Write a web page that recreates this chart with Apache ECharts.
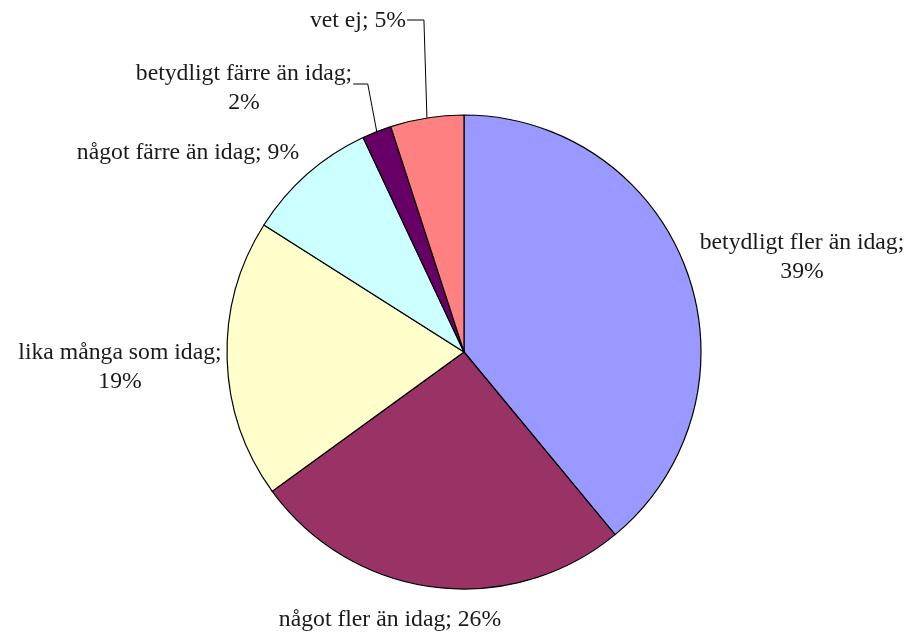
<!DOCTYPE html>
<html><head><meta charset="utf-8">
<script src="https://cdn.jsdelivr.net/npm/echarts@6/dist/echarts.min.js"></script>
<style>html,body{margin:0;padding:0;background:#fff}#c{width:908px;height:632px}</style>
</head><body><div id="c"></div>
<script>
const categories = ['betydligt fler än idag','något fler än idag','lika många som idag','något färre än idag','betydligt färre än idag','vet ej'];
const values = [39, 26, 19, 9, 2, 5];
const labelTexts = ['betydligt fler än idag;\n39%','något fler än idag; 26%','lika många som idag;\n19%','något färre än idag; 9%','betydligt färre än idag;\n2%','vet ej; 5%'];
const colors = ['#9999FF','#993366','#FFFFCC','#CCFFFF','#660066','#FF8080'];
const labelPos = [[802,257],[390,620],[120,367],[188,153],[244,88],[358,21]];
const withLine = [false,false,false,false,true,true];

const chart = echarts.init(document.getElementById('c'), null, {renderer:'canvas'});
chart.setOption({
  animation:false,
  series:[{
    type:'pie',
    center:[464,352],
    radius:237,
    startAngle:90,
    clockwise:true,
    avoidLabelOverlap:false,
    itemStyle:{borderColor:'#000',borderWidth:1.2},
    label:{show:true,position:'outside',fontFamily:'Liberation Serif',fontSize:23.7,color:'#1a1a1a',lineHeight:29,align:'center',
      formatter:p=>labelTexts[p.dataIndex]},
    labelLine:{show:true,lineStyle:{color:'#000',width:1},length:10,length2:10},
    labelLayout:function(params){
      const i=params.dataIndex;
      const [x,y]=labelPos[i];
      const r={x:x,y:y,align:'center',verticalAlign:'middle'};
      if(withLine[i]&&params.labelLinePoints){
        const a=params.labelLinePoints[0];
        const w=params.labelRect.width;
        const lx=x+w/2+1;
        if(i===5){r.labelLinePoints=[a,[a[0]-3,y-1],[lx,y-1]];}
        else {r.labelLinePoints=[a,[a[0]-9,y-4],[lx,y-4]];}
      }
      return r;
    },
    data:categories.map((c,i)=>({name:c,value:values[i],itemStyle:{color:colors[i]},labelLine:{show:withLine[i]}}))
  }]
});
</script></body></html>
